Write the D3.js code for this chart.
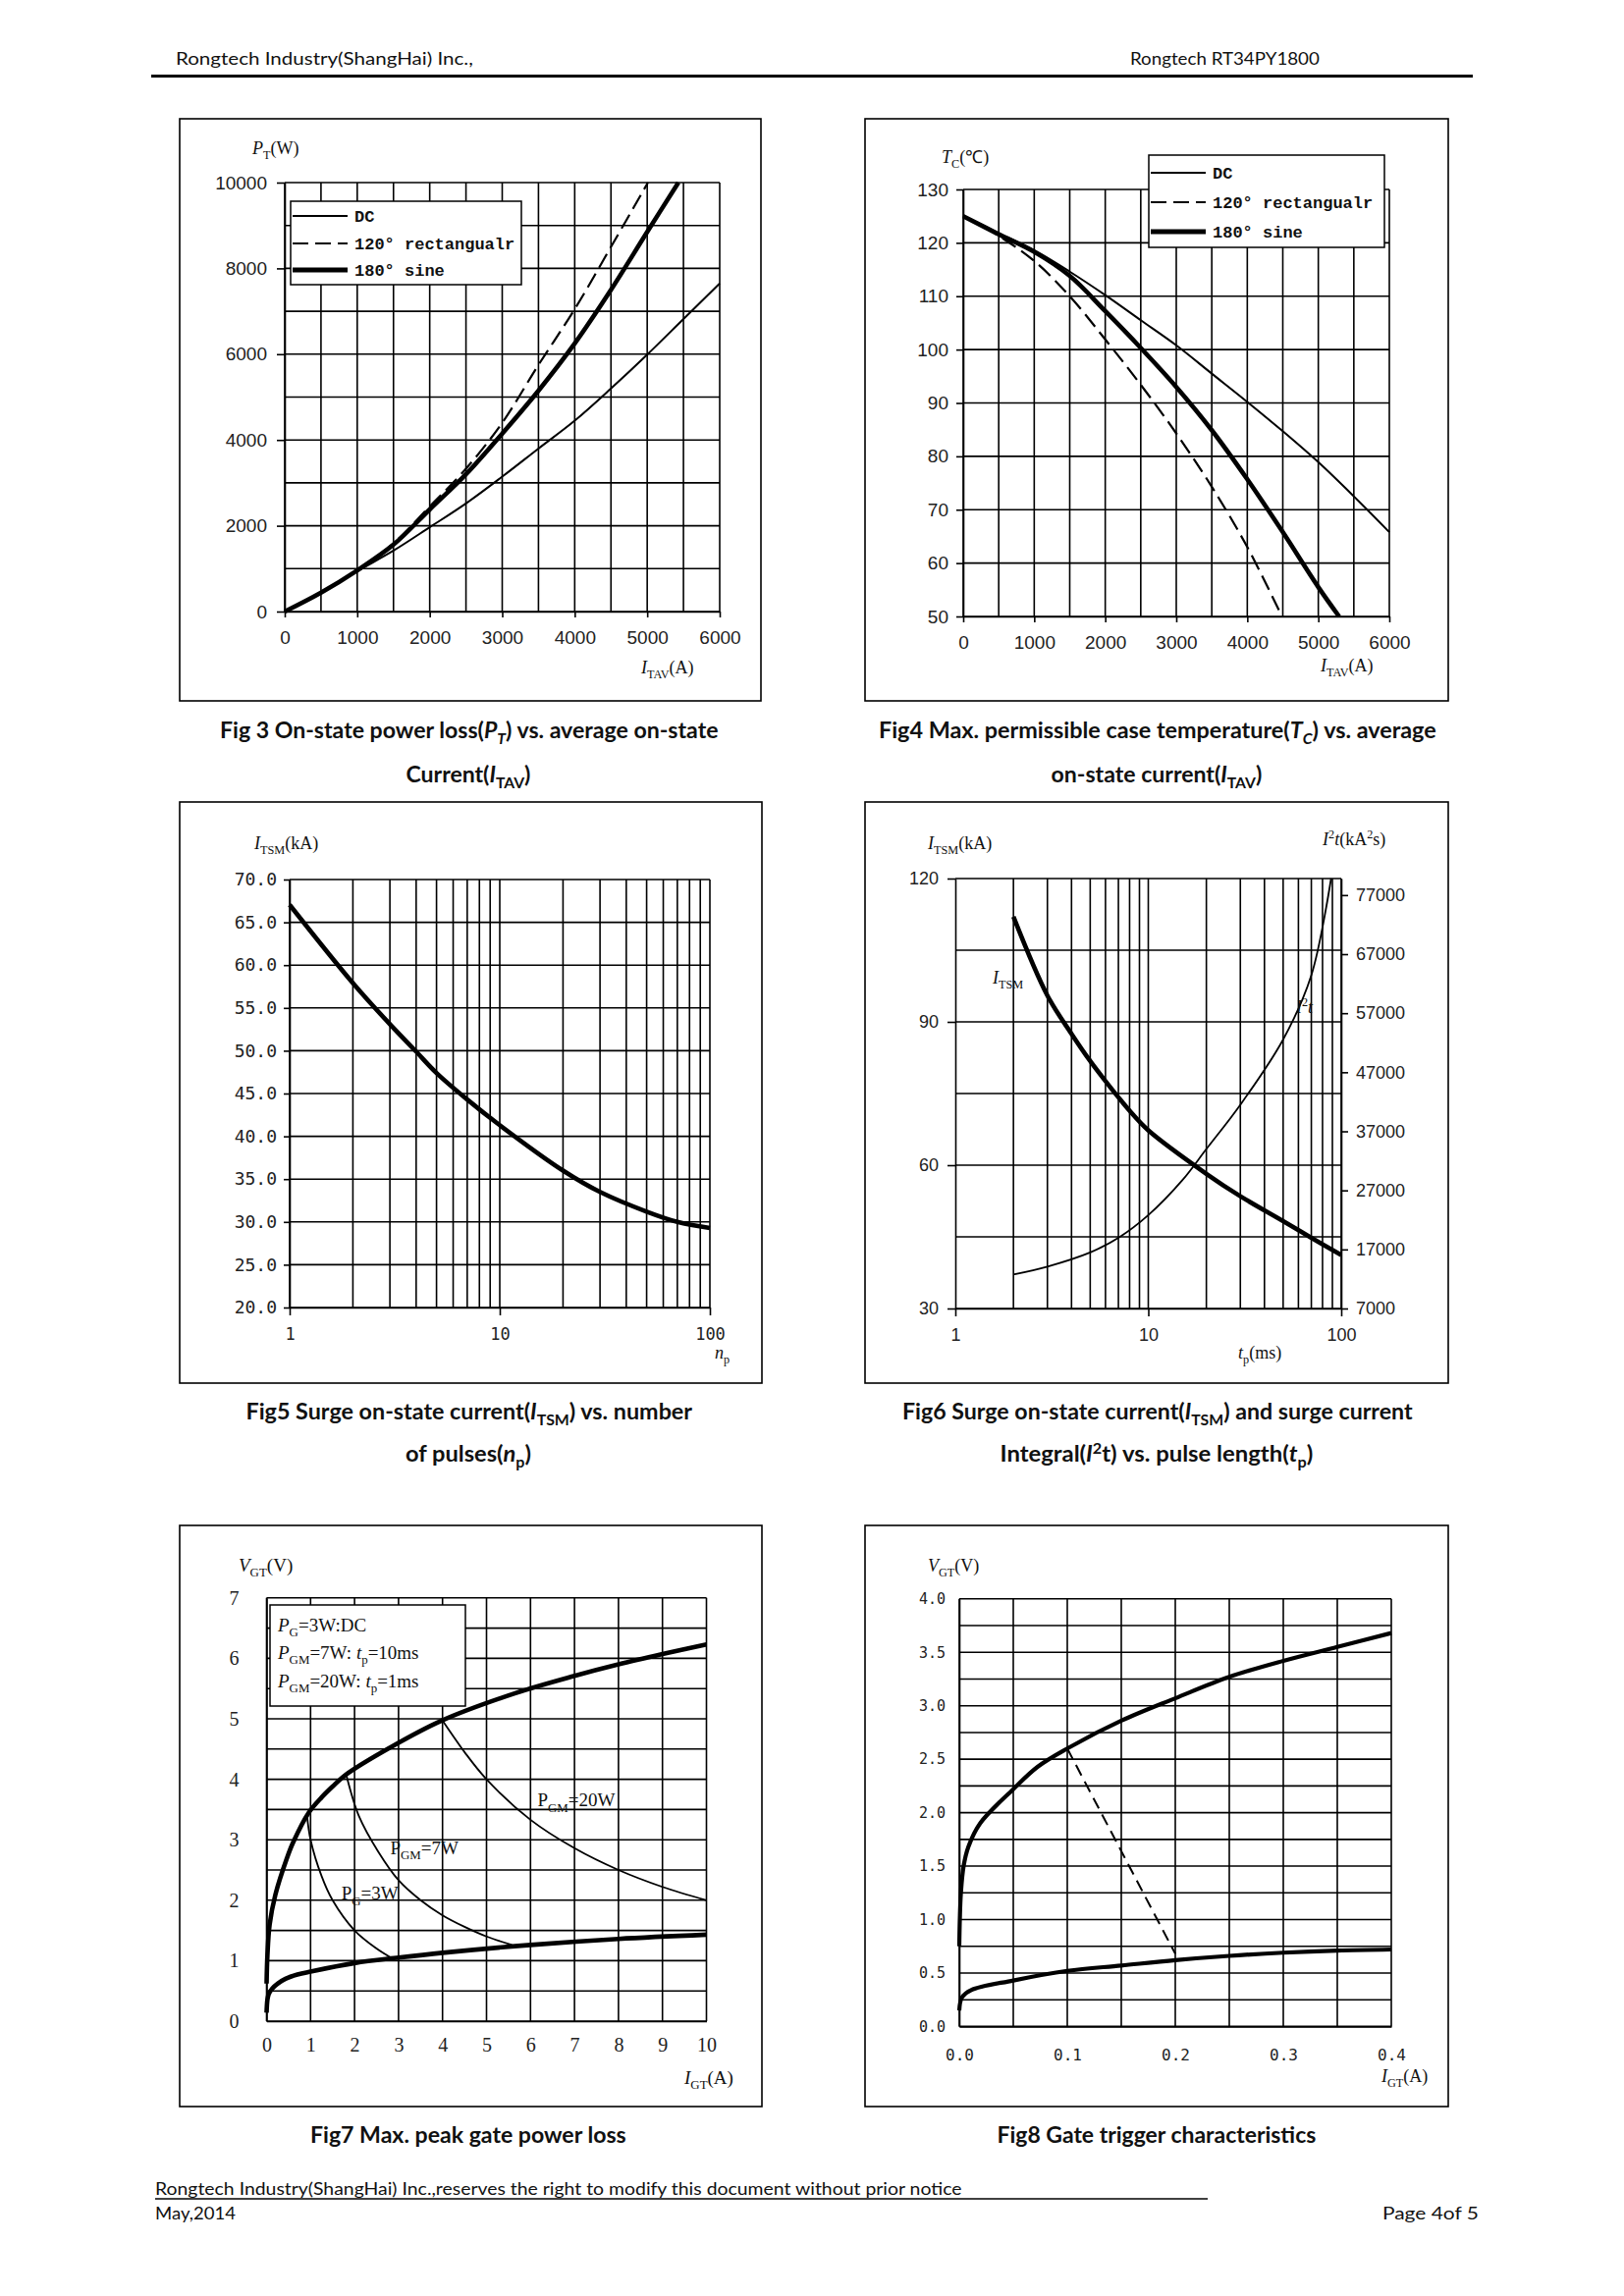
<!DOCTYPE html>
<html><head><meta charset="utf-8">
<script src="https://cdn.jsdelivr.net/npm/d3@7"></script>
<style>body{margin:0;background:#fff}svg{display:block}</style>
</head><body>
<svg id="page" width="1654" height="2339"></svg>
<script>
// ---------- DATA ----------
// Fig 3
const fig3XTicks = [0, 1000, 2000, 3000, 4000, 5000, 6000];
const fig3YTicks = [0, 2000, 4000, 6000, 8000, 10000];
const fig3DC_I = [0, 500, 1000, 1500, 2000, 2500, 3000, 3500, 4000, 4500, 5000, 5500, 6000];
const fig3DC_P = [0, 430, 940, 1420, 1965, 2520, 3145, 3800, 4450, 5200, 5990, 6820, 7650];
const fig3Rect_I = [0, 500, 1000, 1500, 2000, 2500, 3000, 3500, 4000, 4500, 5010];
const fig3Rect_P = [0, 440, 960, 1590, 2450, 3330, 4400, 5750, 7050, 8500, 10000];
const fig3Sine_I = [0, 500, 1000, 1500, 2000, 2500, 3000, 3500, 4000, 4500, 5000, 5430];
const fig3Sine_P = [0, 440, 960, 1560, 2380, 3200, 4150, 5150, 6250, 7500, 8850, 10000];
// Fig 4
const fig4XTicks = [0, 1000, 2000, 3000, 4000, 5000, 6000];
const fig4YTicks = [50, 60, 70, 80, 90, 100, 110, 120, 130];
const fig4DC_I = [0, 500, 1000, 1500, 2000, 2500, 3000, 3500, 4000, 4500, 5000, 5500, 6000];
const fig4DC_T = [125, 121.8, 118.6, 114.6, 110.2, 105.5, 100.8, 95.5, 90.2, 84.7, 78.9, 72.5, 65.8];
const fig4Rect_I = [0, 500, 1000, 1500, 2000, 2500, 3000, 3500, 4000, 4470];
const fig4Rect_T = [125, 121.3, 116.6, 110, 101.9, 93.4, 84.3, 74.3, 63, 50.5];
const fig4Sine_I = [0, 500, 1000, 1500, 2000, 2500, 3000, 3500, 4000, 4500, 5000, 5293];
const fig4Sine_T = [125, 121.6, 118.3, 113.8, 107.2, 100.3, 93, 84.9, 75.7, 65.8, 55.5, 50];
// Fig 5
const fig5XTicks = [1, 10, 100];
const fig5YTicks = [20, 25, 30, 35, 40, 45, 50, 55, 60, 65, 70];
const fig5N = [1, 2, 3, 4, 5, 7, 10, 20, 30, 50, 70, 100];
const fig5I = [67.05, 57.9, 53.1, 49.9, 47.4, 44.3, 41.3, 36.0, 33.5, 31.2, 30.0, 29.3];
// Fig 6
const fig6XTicks = [1, 10, 100];
const fig6YLeftTicks = [30, 60, 90, 120];
const fig6YRightTicks = [7000, 17000, 27000, 37000, 47000, 57000, 67000, 77000];
const fig6ITSM_t = [2, 3, 4, 5, 6, 7, 8, 10, 20, 30, 50, 70, 100];
const fig6ITSM_I = [112, 95.5, 87.5, 81.8, 77.6, 74.2, 71.4, 67.3, 58.2, 53.5, 48.3, 44.8, 41.2];
const fig6I2t_t = [2, 3, 5, 7, 10, 15, 20, 30, 50, 70, 88.6];
const fig6I2t_v = [12760, 14100, 16500, 18960, 22800, 28700, 34000, 41500, 52550, 63430, 79800];
// Fig 7
const fig7XTicks = [0, 1, 2, 3, 4, 5, 6, 7, 8, 9, 10];
const fig7YTicks = [0, 1, 2, 3, 4, 5, 6, 7];
const fig7Upper_I = [0, 0.02, 0.07, 0.2, 0.46, 0.6, 0.96, 1.25, 1.5, 1.79, 2.82, 3.98, 5.64, 7, 8, 9, 10];
const fig7Upper_V = [0.62, 1.1, 1.6, 2.09, 2.69, 2.95, 3.45, 3.70, 3.88, 4.07, 4.53, 4.97, 5.42, 5.71, 5.9, 6.07, 6.23];
const fig7Lower_I = [0, 0.02, 0.05, 0.13, 0.25, 0.43, 0.7, 1, 2, 3, 4, 6, 8, 10];
const fig7Lower_V = [0.14, 0.36, 0.45, 0.54, 0.62, 0.70, 0.77, 0.82, 0.96, 1.05, 1.13, 1.26, 1.36, 1.43];
const fig7P3_I = [0.92, 1, 1.25, 1.5, 2, 2.5, 2.85];
const fig7P3_V = [3.4, 3.0, 2.4, 2.0, 1.5, 1.2, 1.04];
const fig7P7_I = [1.81, 2.1, 2.54, 3, 3.5, 4, 4.5, 5, 5.58];
const fig7P7_V = [4.08, 3.39, 2.8, 2.33, 2.0, 1.75, 1.56, 1.4, 1.26];
const fig7P20_I = [4.0, 4.5, 5, 6, 7, 8, 9, 10];
const fig7P20_V = [4.97, 4.45, 4.0, 3.33, 2.86, 2.5, 2.22, 2.0];
// Fig 8
const fig8XTicks = [0, 0.1, 0.2, 0.3, 0.4];
const fig8YTicks = [0, 0.5, 1, 1.5, 2, 2.5, 3, 3.5, 4];
const fig8Upper_I = [0, 0.0005, 0.0015, 0.004, 0.0084, 0.0193, 0.05, 0.0727, 0.1, 0.15, 0.2, 0.25, 0.3, 0.35, 0.4];
const fig8Upper_V = [0.75, 1.0, 1.25, 1.5, 1.68, 1.9, 2.22, 2.43, 2.6, 2.86, 3.07, 3.27, 3.42, 3.55, 3.68];
const fig8Lower_I = [0, 0.0024, 0.011, 0.05, 0.1, 0.15, 0.2, 0.25, 0.3, 0.35, 0.4];
const fig8Lower_V = [0.15, 0.27, 0.34, 0.43, 0.52, 0.57, 0.62, 0.66, 0.69, 0.71, 0.72];
const fig8Dash_I = [0.1, 0.2];
const fig8Dash_V = [2.6, 0.68];

// ---------- HELPERS ----------
const svg = d3.select("#page");
const CAP = "Lato, 'Open Sans', sans-serif";

function frame(x0, y0, x1, y1) {
  svg.append("rect").attr("x", x0).attr("y", y0).attr("width", x1 - x0).attr("height", y1 - y0)
    .attr("fill", "none").attr("stroke", "#000").attr("stroke-width", 1.6);
}
function grid(x, y, xs, ys, w) {
  const [xa, xb] = x.range(), [ya, yb] = y.range();
  const g = svg.append("g").attr("stroke", "#000").attr("stroke-width", w || 1.6);
  g.selectAll(".v").data(xs).join("line").attr("class", "v")
    .attr("x1", d => x(d)).attr("x2", d => x(d)).attr("y1", ya).attr("y2", yb);
  g.selectAll(".h").data(ys).join("line").attr("class", "h")
    .attr("y1", d => y(d)).attr("y2", d => y(d)).attr("x1", xa).attr("x2", xb);
}
function curve(x, y, xs, ys, w, dash) {
  const line = d3.line().x(d => x(d[0])).y(d => y(d[1])).curve(d3.curveCatmullRom.alpha(0.5));
  svg.append("path").datum(d3.zip(xs, ys)).attr("d", line).attr("fill", "none")
    .attr("stroke", "#000").attr("stroke-width", w).attr("stroke-dasharray", dash || null)
    .attr("stroke-linejoin", "round");
}
function styleAxis(g, font, size) {
  g.attr("font-family", null).attr("font-size", null);
  g.select(".domain").attr("stroke", "#000").attr("stroke-width", 1.6);
  g.selectAll(".tick line").attr("stroke", "#000").attr("stroke-width", 1.6);
  g.selectAll(".tick text").attr("font-family", font).attr("font-size", size).attr("fill", "#222");
  return g;
}
function rich(x, y, parts, o) {
  o = o || {};
  const size = o.size || 17;
  const t = svg.append("text").attr("x", x).attr("y", y)
    .attr("font-family", o.font || "'Liberation Serif', serif").attr("font-size", size)
    .attr("fill", o.fill || "#111").attr("text-anchor", o.anchor || "start");
  if (o.weight) t.attr("font-weight", o.weight);
  let shift = 0;
  parts.forEach(p => {
    const str = typeof p === "string" ? p : p[0];
    const kind = typeof p === "string" ? "" : p[1];
    const ts = t.append("tspan").text(str);
    let target = 0;
    if (kind.includes("sub")) target = size * 0.28;
    if (kind.includes("sup")) target = -size * 0.38;
    if (target !== shift) { ts.attr("dy", target - shift); shift = target; }
    if (kind.includes("sub") || kind.includes("sup")) ts.attr("font-size", size * 0.68);
    if (kind.startsWith("i")) ts.attr("font-style", "italic");
  });
  return t;
}
function fit(t, w) {
  const len = t.node().getComputedTextLength();
  if (!len) return t;
  const x = +t.attr("x"), y = +t.attr("y"), s = w / len;
  t.attr("transform", `translate(${x},${y}) scale(${s},1) translate(${-x},${-y})`);
  return t;
}
function legend(x0, y0, w, h, items, font, size) {
  svg.append("rect").attr("x", x0).attr("y", y0).attr("width", w).attr("height", h)
    .attr("fill", "#fff").attr("stroke", "#000").attr("stroke-width", 1.5);
  items.forEach(it => {
    svg.append("line").attr("x1", x0 + 2).attr("x2", x0 + 58).attr("y1", it.y).attr("y2", it.y)
      .attr("stroke", "#000").attr("stroke-width", it.w).attr("stroke-dasharray", it.dash || null);
    rich(x0 + 65, it.y + 6, it.parts, {font: font, size: size, weight: "bold"});
  });
}
const fmtInt = d3.format("d");

// ---------- HEADER / FOOTER ----------
fit(rich(179, 66, ["Rongtech Industry(ShangHai) Inc.,"], {font: CAP, size: 18, fill: "#111"}), 303);
fit(rich(1151, 66, ["Rongtech RT34PY1800"], {font: CAP, size: 18, fill: "#111"}), 193);
svg.append("line").attr("x1", 154).attr("x2", 1500).attr("y1", 77.5).attr("y2", 77.5)
  .attr("stroke", "#000").attr("stroke-width", 3);
fit(rich(158, 2236, ["Rongtech Industry(ShangHai) Inc.,reserves the right to modify this document without prior notice"], {font: CAP, size: 17, fill: "#111"}), 822);
svg.append("line").attr("x1", 158).attr("x2", 1230).attr("y1", 2240).attr("y2", 2240)
  .attr("stroke", "#000").attr("stroke-width", 1.6);
fit(rich(158, 2261, ["May,2014"], {font: CAP, size: 17, fill: "#111"}), 82);
fit(rich(1408, 2261, ["Page  4of  5"], {font: CAP, size: 17, fill: "#111"}), 98);

// ---------- CAPTIONS ----------
function caption(cx, y, parts, w) {
  fit(rich(cx - w / 2, y, parts, {font: CAP, size: 22, weight: "bold", fill: "#111"}), w);
}
caption(478, 752, ["Fig 3 On-state power loss(", ["P", "i"], ["T", "isub"], ") vs. average on-state"], 508);
caption(477, 797, ["Current(", ["I", "i"], ["TAV", "sub"], ")"], 127);
caption(1179, 752, ["Fig4 Max. permissible case temperature(", ["T", "i"], ["C", "isub"], ") vs. average"], 568);
caption(1178, 797, ["on-state current(", ["I", "i"], ["TAV", "sub"], ")"], 215);
caption(478, 1446, ["Fig5 Surge on-state current(", ["I", "i"], ["TSM", "sub"], ") vs. number"], 455);
caption(477, 1489, ["of pulses(", ["n", "i"], ["p", "sub"], ")"], 128);
caption(1179, 1446, ["Fig6 Surge on-state current(", ["I", "i"], ["TSM", "sub"], ") and surge current"], 520);
caption(1178, 1489, ["Integral(", ["I", "i"], ["2", "sup"], "t) vs. pulse length(", ["t", "i"], ["p", "sub"], ")"], 319);
caption(477, 2183, ["Fig7 Max. peak gate power loss"], 322);
caption(1178, 2183, ["Fig8 Gate trigger characteristics"], 325);

// ---------- FIG 3 ----------
(function () {
  frame(183, 121, 775, 714);
  const x = d3.scaleLinear([0, 6000], [290, 733]);
  const y = d3.scaleLinear([0, 10000], [623, 186]);
  grid(x, y, d3.range(0, 6001, 500), d3.range(0, 10001, 1000));
  curve(x, y, fig3DC_I, fig3DC_P, 2);
  curve(x, y, fig3Rect_I, fig3Rect_P, 2.2, "16,7");
  curve(x, y, fig3Sine_I, fig3Sine_P, 4.6);
  legend(296, 205, 235, 85, [
    {y: 220, w: 2, parts: ["DC"]},
    {y: 248, w: 2, dash: "16,7", parts: ["120° rectangualr"]},
    {y: 275, w: 5, parts: ["180° sine"]}
  ], "'Liberation Mono', monospace", 17);
  styleAxis(svg.append("g").attr("transform", "translate(290,0)")
    .call(d3.axisLeft(y).tickValues(fig3YTicks).tickFormat(fmtInt).tickSize(8).tickPadding(10).tickSizeOuter(0)), "'Liberation Sans', Arial, sans-serif", 19);
  styleAxis(svg.append("g").attr("transform", "translate(0,623)")
    .call(d3.axisBottom(x).tickValues(fig3XTicks).tickFormat(fmtInt).tickSize(6).tickPadding(14).tickSizeOuter(0)), "'Liberation Sans', Arial, sans-serif", 19);
  rich(257, 157, [["P", "i"], ["T", "sub"], "(W)"], {size: 18});
  rich(653, 686, [["I", "i"], ["TAV", "sub"], "(A)"], {size: 18});
})();

// ---------- FIG 4 ----------
(function () {
  frame(881, 121, 1475, 714);
  const x = d3.scaleLinear([0, 6000], [981, 1415]);
  const y = d3.scaleLinear([50, 130], [628, 193]);
  grid(x, y, d3.range(0, 6001, 500), d3.range(50, 131, 10));
  curve(x, y, fig4DC_I, fig4DC_T, 2);
  curve(x, y, fig4Rect_I, fig4Rect_T, 2.2, "16,7");
  curve(x, y, fig4Sine_I, fig4Sine_T, 4.6);
  legend(1170, 158, 240, 94, [
    {y: 176, w: 2, parts: ["DC"]},
    {y: 206, w: 2, dash: "16,7", parts: ["120° rectangualr"]},
    {y: 236, w: 5, parts: ["180° sine"]}
  ], "'Liberation Mono', monospace", 17);
  styleAxis(svg.append("g").attr("transform", "translate(981,0)")
    .call(d3.axisLeft(y).tickValues(fig4YTicks).tickFormat(fmtInt).tickSize(7).tickPadding(8).tickSizeOuter(0)), "'Liberation Sans', Arial, sans-serif", 19);
  styleAxis(svg.append("g").attr("transform", "translate(0,628)")
    .call(d3.axisBottom(x).tickValues(fig4XTicks).tickFormat(fmtInt).tickSize(6).tickPadding(14).tickSizeOuter(0)), "'Liberation Sans', Arial, sans-serif", 19);
  rich(959, 166, [["T", "i"], ["C", "sub"], "(℃)"], {size: 18});
  rich(1345, 684, [["I", "i"], ["TAV", "sub"], "(A)"], {size: 18});
})();

// ---------- FIG 5 ----------
(function () {
  frame(183, 817, 776, 1409);
  const x = d3.scaleLog([1, 100], [295, 723]);
  const y = d3.scaleLinear([20, 70], [1332, 896]);
  const xs = d3.range(1, 10).concat(d3.range(10, 101, 10));
  grid(x, y, xs, d3.range(20, 71, 5));
  curve(x, y, fig5N, fig5I, 4.6);
  styleAxis(svg.append("g").attr("transform", "translate(295,0)")
    .call(d3.axisLeft(y).tickValues(fig5YTicks).tickFormat(d3.format(".1f")).tickSize(6).tickPadding(7).tickSizeOuter(0)), "'DejaVu Sans Mono', monospace", 18);
  styleAxis(svg.append("g").attr("transform", "translate(0,1332)")
    .call(d3.axisBottom(x).tickValues(fig5XTicks).tickFormat(fmtInt).tickSize(8).tickPadding(13).tickSizeOuter(0)), "'DejaVu Sans Mono', monospace", 17);
  rich(259, 865, [["I", "i"], ["TSM", "sub"], "(kA)"], {size: 18});
  rich(728, 1384, [["n", "i"], ["p", "sub"]], {size: 18});
})();

// ---------- FIG 6 ----------
(function () {
  frame(881, 817, 1475, 1409);
  const x = d3.scaleLog([1, 100], [973, 1366]);
  const yL = d3.scaleLinear([30, 120], [1333, 895]);
  const yR = d3.scaleLinear([7000, 79800], [1333, 895]);
  const xs = d3.range(2, 10).concat(d3.range(10, 101, 10));
  grid(x, yL, xs, d3.range(30, 121, 15));
  curve(x, yL, fig6ITSM_t, fig6ITSM_I, 4.6);
  curve(x, yR, fig6I2t_t, fig6I2t_v, 1.8);
  styleAxis(svg.append("g").attr("transform", "translate(973,0)")
    .call(d3.axisLeft(yL).tickValues(fig6YLeftTicks).tickFormat(fmtInt).tickSize(8).tickPadding(9).tickSizeOuter(0)), "'Liberation Sans', Arial, sans-serif", 18);
  styleAxis(svg.append("g").attr("transform", "translate(1366,0)")
    .call(d3.axisRight(yR).tickValues(fig6YRightTicks).tickFormat(fmtInt).tickSize(7).tickPadding(8).tickSizeOuter(0)), "'Liberation Sans', Arial, sans-serif", 18);
  styleAxis(svg.append("g").attr("transform", "translate(0,1333)")
    .call(d3.axisBottom(x).tickValues(fig6XTicks).tickFormat(fmtInt).tickSize(8).tickPadding(12).tickSizeOuter(0)), "'Liberation Sans', Arial, sans-serif", 18);
  rich(945, 865, [["I", "i"], ["TSM", "sub"], "(kA)"], {size: 18});
  rich(1347, 861, [["I", "i"], ["2", "sup"], ["t", "i"], "(kA", ["2", "sup"], "s)"], {size: 18});
  rich(1261, 1384, [["t", "i"], ["p", "sub"], "(ms)"], {size: 18});
  rich(x(1.56), yL(98), [["I", "i"], ["TSM", "sub"]], {size: 18});
  rich(x(58.3), yL(91.8), [["I", "i"], ["2", "sup"], ["t", "i"]], {size: 18});
})();

// ---------- FIG 7 ----------
(function () {
  frame(183, 1554, 776, 2146);
  const x = d3.scaleLinear([0, 10], [271.5, 719.5]);
  const y = d3.scaleLinear([0, 7], [2059, 1627.8]);
  grid(x, y, d3.range(0, 11, 1), d3.range(0, 7.01, 0.5));
  svg.append("rect").attr("x", 275).attr("y", 1635).attr("width", 199).attr("height", 103)
    .attr("fill", "#fff").attr("stroke", "#000").attr("stroke-width", 1.5);
  const S = "'Liberation Serif', serif";
  rich(283, 1662, [["P", "i"], ["G", "sub"], "=3W:DC"], {font: S, size: 19});
  rich(283, 1690, [["P", "i"], ["GM", "sub"], "=7W: ", ["t", "i"], ["p", "sub"], "=10ms"], {font: S, size: 19});
  rich(283, 1719, [["P", "i"], ["GM", "sub"], "=20W: ", ["t", "i"], ["p", "sub"], "=1ms"], {font: S, size: 19});
  curve(x, y, fig7P3_I, fig7P3_V, 1.8);
  curve(x, y, fig7P7_I, fig7P7_V, 1.8);
  curve(x, y, fig7P20_I, fig7P20_V, 1.8);
  curve(x, y, fig7Upper_I, fig7Upper_V, 4.6);
  curve(x, y, fig7Lower_I, fig7Lower_V, 4.6);
  styleAxis(svg.append("g").attr("transform", "translate(271.5,0)")
    .call(d3.axisLeft(y).tickValues(fig7YTicks).tickFormat(fmtInt).tickSize(0).tickPadding(28).tickSizeOuter(0)), S, 20);
  styleAxis(svg.append("g").attr("transform", "translate(0,2059)")
    .call(d3.axisBottom(x).tickValues(fig7XTicks).tickFormat(fmtInt).tickSize(0).tickPadding(17).tickSizeOuter(0)), S, 20);
  rich(x(6.16), y(3.55), ["P", ["GM", "sub"], "=20W"], {font: S, size: 19});
  rich(x(2.81), y(2.76), ["P", ["GM", "sub"], "=7W"], {font: S, size: 19});
  rich(x(1.70), y(2.01), ["P", ["G", "sub"], "=3W"], {font: S, size: 19});
  rich(243, 1601, [["V", "i"], ["GT", "sub"], "(V)"], {font: S, size: 19});
  rich(697, 2123, [["I", "i"], ["GT", "sub"], "(A)"], {font: S, size: 19});
})();

// ---------- FIG 8 ----------
(function () {
  frame(881, 1554, 1475, 2146);
  const x = d3.scaleLinear([0, 0.4], [977, 1417]);
  const y = d3.scaleLinear([0, 4], [2064.4, 1628.8]);
  grid(x, y, d3.range(0, 0.4001, 0.05), d3.range(0, 4.001, 0.25));
  curve(x, y, fig8Upper_I, fig8Upper_V, 4.2);
  curve(x, y, fig8Lower_I, fig8Lower_V, 4.2);
  curve(x, y, fig8Dash_I, fig8Dash_V, 2, "12,7");
  styleAxis(svg.append("g").attr("transform", "translate(977,0)")
    .call(d3.axisLeft(y).tickValues(fig8YTicks).tickFormat(d3.format(".1f")).tickSize(0).tickPadding(14).tickSizeOuter(0)), "'DejaVu Sans Mono', monospace", 15);
  styleAxis(svg.append("g").attr("transform", "translate(0,2064.4)")
    .call(d3.axisBottom(x).tickValues(fig8XTicks).tickFormat(d3.format(".1f")).tickSize(0).tickPadding(23).tickSizeOuter(0)), "'DejaVu Sans Mono', monospace", 16);
  rich(945, 1601, [["V", "i"], ["GT", "sub"], "(V)"], {size: 18});
  rich(1407, 2121, [["I", "i"], ["GT", "sub"], "(A)"], {size: 18});
})();
</script>
</body></html>
